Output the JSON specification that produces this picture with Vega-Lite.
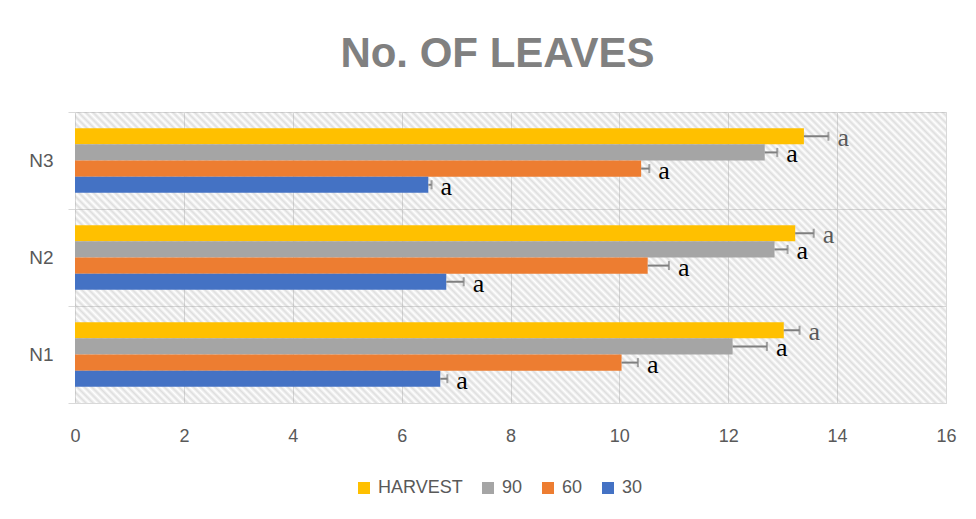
{
  "$schema": "https://vega.github.io/schema/vega-lite/v6.json",
  "width": 871,
  "height": 291,
  "autosize": {"type": "none"},
  "padding": {"left": 75, "top": 112, "right": 30, "bottom": 116},
  "background": "white",
  "title": {
    "text": "No. OF LEAVES",
    "font": "Liberation Sans",
    "fontSize": 42,
    "fontWeight": "bold",
    "color": "#808080",
    "anchor": "middle",
    "baseline": "alphabetic",
    "dx": -13,
    "offset": -6
  },
  "layer": [
    {
      "data": {"values": [{"area": "plot"}]},
      "mark": {
        "type": "rect",
        "fill": {
          "gradient": "linear",
          "x1": 0, "y1": 1, "x2": 1.2001, "y2": 0.599,
          "stops": [
{"offset":0,"color":"#a0a0a000"},{"offset":0.003125,"color":"#a0a0a059"},{"offset":0.00625,"color":"#a0a0a000"},{"offset":0.009375,"color":"#a0a0a059"},{"offset":0.0125,"color":"#a0a0a000"},{"offset":0.015625,"color":"#a0a0a059"},{"offset":0.01875,"color":"#a0a0a000"},{"offset":0.021875,"color":"#a0a0a059"},
{"offset":0.025,"color":"#a0a0a000"},{"offset":0.028125,"color":"#a0a0a059"},{"offset":0.03125,"color":"#a0a0a000"},{"offset":0.034375,"color":"#a0a0a059"},{"offset":0.0375,"color":"#a0a0a000"},{"offset":0.040625,"color":"#a0a0a059"},{"offset":0.04375,"color":"#a0a0a000"},{"offset":0.046875,"color":"#a0a0a059"},
{"offset":0.05,"color":"#a0a0a000"},{"offset":0.053125,"color":"#a0a0a059"},{"offset":0.05625,"color":"#a0a0a000"},{"offset":0.059375,"color":"#a0a0a059"},{"offset":0.0625,"color":"#a0a0a000"},{"offset":0.065625,"color":"#a0a0a059"},{"offset":0.06875,"color":"#a0a0a000"},{"offset":0.071875,"color":"#a0a0a059"},
{"offset":0.075,"color":"#a0a0a000"},{"offset":0.078125,"color":"#a0a0a059"},{"offset":0.08125,"color":"#a0a0a000"},{"offset":0.084375,"color":"#a0a0a059"},{"offset":0.0875,"color":"#a0a0a000"},{"offset":0.090625,"color":"#a0a0a059"},{"offset":0.09375,"color":"#a0a0a000"},{"offset":0.096875,"color":"#a0a0a059"},
{"offset":0.1,"color":"#a0a0a000"},{"offset":0.103125,"color":"#a0a0a059"},{"offset":0.10625,"color":"#a0a0a000"},{"offset":0.109375,"color":"#a0a0a059"},{"offset":0.1125,"color":"#a0a0a000"},{"offset":0.115625,"color":"#a0a0a059"},{"offset":0.11875,"color":"#a0a0a000"},{"offset":0.121875,"color":"#a0a0a059"},
{"offset":0.125,"color":"#a0a0a000"},{"offset":0.128125,"color":"#a0a0a059"},{"offset":0.13125,"color":"#a0a0a000"},{"offset":0.134375,"color":"#a0a0a059"},{"offset":0.1375,"color":"#a0a0a000"},{"offset":0.140625,"color":"#a0a0a059"},{"offset":0.14375,"color":"#a0a0a000"},{"offset":0.146875,"color":"#a0a0a059"},
{"offset":0.15,"color":"#a0a0a000"},{"offset":0.153125,"color":"#a0a0a059"},{"offset":0.15625,"color":"#a0a0a000"},{"offset":0.159375,"color":"#a0a0a059"},{"offset":0.1625,"color":"#a0a0a000"},{"offset":0.165625,"color":"#a0a0a059"},{"offset":0.16875,"color":"#a0a0a000"},{"offset":0.171875,"color":"#a0a0a059"},
{"offset":0.175,"color":"#a0a0a000"},{"offset":0.178125,"color":"#a0a0a059"},{"offset":0.18125,"color":"#a0a0a000"},{"offset":0.184375,"color":"#a0a0a059"},{"offset":0.1875,"color":"#a0a0a000"},{"offset":0.190625,"color":"#a0a0a059"},{"offset":0.19375,"color":"#a0a0a000"},{"offset":0.196875,"color":"#a0a0a059"},
{"offset":0.2,"color":"#a0a0a000"},{"offset":0.203125,"color":"#a0a0a059"},{"offset":0.20625,"color":"#a0a0a000"},{"offset":0.209375,"color":"#a0a0a059"},{"offset":0.2125,"color":"#a0a0a000"},{"offset":0.215625,"color":"#a0a0a059"},{"offset":0.21875,"color":"#a0a0a000"},{"offset":0.221875,"color":"#a0a0a059"},
{"offset":0.225,"color":"#a0a0a000"},{"offset":0.228125,"color":"#a0a0a059"},{"offset":0.23125,"color":"#a0a0a000"},{"offset":0.234375,"color":"#a0a0a059"},{"offset":0.2375,"color":"#a0a0a000"},{"offset":0.240625,"color":"#a0a0a059"},{"offset":0.24375,"color":"#a0a0a000"},{"offset":0.246875,"color":"#a0a0a059"},
{"offset":0.25,"color":"#a0a0a000"},{"offset":0.253125,"color":"#a0a0a059"},{"offset":0.25625,"color":"#a0a0a000"},{"offset":0.259375,"color":"#a0a0a059"},{"offset":0.2625,"color":"#a0a0a000"},{"offset":0.265625,"color":"#a0a0a059"},{"offset":0.26875,"color":"#a0a0a000"},{"offset":0.271875,"color":"#a0a0a059"},
{"offset":0.275,"color":"#a0a0a000"},{"offset":0.278125,"color":"#a0a0a059"},{"offset":0.28125,"color":"#a0a0a000"},{"offset":0.284375,"color":"#a0a0a059"},{"offset":0.2875,"color":"#a0a0a000"},{"offset":0.290625,"color":"#a0a0a059"},{"offset":0.29375,"color":"#a0a0a000"},{"offset":0.296875,"color":"#a0a0a059"},
{"offset":0.3,"color":"#a0a0a000"},{"offset":0.303125,"color":"#a0a0a059"},{"offset":0.30625,"color":"#a0a0a000"},{"offset":0.309375,"color":"#a0a0a059"},{"offset":0.3125,"color":"#a0a0a000"},{"offset":0.315625,"color":"#a0a0a059"},{"offset":0.31875,"color":"#a0a0a000"},{"offset":0.321875,"color":"#a0a0a059"},
{"offset":0.325,"color":"#a0a0a000"},{"offset":0.328125,"color":"#a0a0a059"},{"offset":0.33125,"color":"#a0a0a000"},{"offset":0.334375,"color":"#a0a0a059"},{"offset":0.3375,"color":"#a0a0a000"},{"offset":0.340625,"color":"#a0a0a059"},{"offset":0.34375,"color":"#a0a0a000"},{"offset":0.346875,"color":"#a0a0a059"},
{"offset":0.35,"color":"#a0a0a000"},{"offset":0.353125,"color":"#a0a0a059"},{"offset":0.35625,"color":"#a0a0a000"},{"offset":0.359375,"color":"#a0a0a059"},{"offset":0.3625,"color":"#a0a0a000"},{"offset":0.365625,"color":"#a0a0a059"},{"offset":0.36875,"color":"#a0a0a000"},{"offset":0.371875,"color":"#a0a0a059"},
{"offset":0.375,"color":"#a0a0a000"},{"offset":0.378125,"color":"#a0a0a059"},{"offset":0.38125,"color":"#a0a0a000"},{"offset":0.384375,"color":"#a0a0a059"},{"offset":0.3875,"color":"#a0a0a000"},{"offset":0.390625,"color":"#a0a0a059"},{"offset":0.39375,"color":"#a0a0a000"},{"offset":0.396875,"color":"#a0a0a059"},
{"offset":0.4,"color":"#a0a0a000"},{"offset":0.403125,"color":"#a0a0a059"},{"offset":0.40625,"color":"#a0a0a000"},{"offset":0.409375,"color":"#a0a0a059"},{"offset":0.4125,"color":"#a0a0a000"},{"offset":0.415625,"color":"#a0a0a059"},{"offset":0.41875,"color":"#a0a0a000"},{"offset":0.421875,"color":"#a0a0a059"},
{"offset":0.425,"color":"#a0a0a000"},{"offset":0.428125,"color":"#a0a0a059"},{"offset":0.43125,"color":"#a0a0a000"},{"offset":0.434375,"color":"#a0a0a059"},{"offset":0.4375,"color":"#a0a0a000"},{"offset":0.440625,"color":"#a0a0a059"},{"offset":0.44375,"color":"#a0a0a000"},{"offset":0.446875,"color":"#a0a0a059"},
{"offset":0.45,"color":"#a0a0a000"},{"offset":0.453125,"color":"#a0a0a059"},{"offset":0.45625,"color":"#a0a0a000"},{"offset":0.459375,"color":"#a0a0a059"},{"offset":0.4625,"color":"#a0a0a000"},{"offset":0.465625,"color":"#a0a0a059"},{"offset":0.46875,"color":"#a0a0a000"},{"offset":0.471875,"color":"#a0a0a059"},
{"offset":0.475,"color":"#a0a0a000"},{"offset":0.478125,"color":"#a0a0a059"},{"offset":0.48125,"color":"#a0a0a000"},{"offset":0.484375,"color":"#a0a0a059"},{"offset":0.4875,"color":"#a0a0a000"},{"offset":0.490625,"color":"#a0a0a059"},{"offset":0.49375,"color":"#a0a0a000"},{"offset":0.496875,"color":"#a0a0a059"},
{"offset":0.5,"color":"#a0a0a000"},{"offset":0.503125,"color":"#a0a0a059"},{"offset":0.50625,"color":"#a0a0a000"},{"offset":0.509375,"color":"#a0a0a059"},{"offset":0.5125,"color":"#a0a0a000"},{"offset":0.515625,"color":"#a0a0a059"},{"offset":0.51875,"color":"#a0a0a000"},{"offset":0.521875,"color":"#a0a0a059"},
{"offset":0.525,"color":"#a0a0a000"},{"offset":0.528125,"color":"#a0a0a059"},{"offset":0.53125,"color":"#a0a0a000"},{"offset":0.534375,"color":"#a0a0a059"},{"offset":0.5375,"color":"#a0a0a000"},{"offset":0.540625,"color":"#a0a0a059"},{"offset":0.54375,"color":"#a0a0a000"},{"offset":0.546875,"color":"#a0a0a059"},
{"offset":0.55,"color":"#a0a0a000"},{"offset":0.553125,"color":"#a0a0a059"},{"offset":0.55625,"color":"#a0a0a000"},{"offset":0.559375,"color":"#a0a0a059"},{"offset":0.5625,"color":"#a0a0a000"},{"offset":0.565625,"color":"#a0a0a059"},{"offset":0.56875,"color":"#a0a0a000"},{"offset":0.571875,"color":"#a0a0a059"},
{"offset":0.575,"color":"#a0a0a000"},{"offset":0.578125,"color":"#a0a0a059"},{"offset":0.58125,"color":"#a0a0a000"},{"offset":0.584375,"color":"#a0a0a059"},{"offset":0.5875,"color":"#a0a0a000"},{"offset":0.590625,"color":"#a0a0a059"},{"offset":0.59375,"color":"#a0a0a000"},{"offset":0.596875,"color":"#a0a0a059"},
{"offset":0.6,"color":"#a0a0a000"},{"offset":0.603125,"color":"#a0a0a059"},{"offset":0.60625,"color":"#a0a0a000"},{"offset":0.609375,"color":"#a0a0a059"},{"offset":0.6125,"color":"#a0a0a000"},{"offset":0.615625,"color":"#a0a0a059"},{"offset":0.61875,"color":"#a0a0a000"},{"offset":0.621875,"color":"#a0a0a059"},
{"offset":0.625,"color":"#a0a0a000"},{"offset":0.628125,"color":"#a0a0a059"},{"offset":0.63125,"color":"#a0a0a000"},{"offset":0.634375,"color":"#a0a0a059"},{"offset":0.6375,"color":"#a0a0a000"},{"offset":0.640625,"color":"#a0a0a059"},{"offset":0.64375,"color":"#a0a0a000"},{"offset":0.646875,"color":"#a0a0a059"},
{"offset":0.65,"color":"#a0a0a000"},{"offset":0.653125,"color":"#a0a0a059"},{"offset":0.65625,"color":"#a0a0a000"},{"offset":0.659375,"color":"#a0a0a059"},{"offset":0.6625,"color":"#a0a0a000"},{"offset":0.665625,"color":"#a0a0a059"},{"offset":0.66875,"color":"#a0a0a000"},{"offset":0.671875,"color":"#a0a0a059"},
{"offset":0.675,"color":"#a0a0a000"},{"offset":0.678125,"color":"#a0a0a059"},{"offset":0.68125,"color":"#a0a0a000"},{"offset":0.684375,"color":"#a0a0a059"},{"offset":0.6875,"color":"#a0a0a000"},{"offset":0.690625,"color":"#a0a0a059"},{"offset":0.69375,"color":"#a0a0a000"},{"offset":0.696875,"color":"#a0a0a059"},
{"offset":0.7,"color":"#a0a0a000"},{"offset":0.703125,"color":"#a0a0a059"},{"offset":0.70625,"color":"#a0a0a000"},{"offset":0.709375,"color":"#a0a0a059"},{"offset":0.7125,"color":"#a0a0a000"},{"offset":0.715625,"color":"#a0a0a059"},{"offset":0.71875,"color":"#a0a0a000"},{"offset":0.721875,"color":"#a0a0a059"},
{"offset":0.725,"color":"#a0a0a000"},{"offset":0.728125,"color":"#a0a0a059"},{"offset":0.73125,"color":"#a0a0a000"},{"offset":0.734375,"color":"#a0a0a059"},{"offset":0.7375,"color":"#a0a0a000"},{"offset":0.740625,"color":"#a0a0a059"},{"offset":0.74375,"color":"#a0a0a000"},{"offset":0.746875,"color":"#a0a0a059"},
{"offset":0.75,"color":"#a0a0a000"},{"offset":0.753125,"color":"#a0a0a059"},{"offset":0.75625,"color":"#a0a0a000"},{"offset":0.759375,"color":"#a0a0a059"},{"offset":0.7625,"color":"#a0a0a000"},{"offset":0.765625,"color":"#a0a0a059"},{"offset":0.76875,"color":"#a0a0a000"},{"offset":0.771875,"color":"#a0a0a059"},
{"offset":0.775,"color":"#a0a0a000"},{"offset":0.778125,"color":"#a0a0a059"},{"offset":0.78125,"color":"#a0a0a000"},{"offset":0.784375,"color":"#a0a0a059"},{"offset":0.7875,"color":"#a0a0a000"},{"offset":0.790625,"color":"#a0a0a059"},{"offset":0.79375,"color":"#a0a0a000"},{"offset":0.796875,"color":"#a0a0a059"},
{"offset":0.8,"color":"#a0a0a000"},{"offset":0.803125,"color":"#a0a0a059"},{"offset":0.80625,"color":"#a0a0a000"},{"offset":0.809375,"color":"#a0a0a059"},{"offset":0.8125,"color":"#a0a0a000"},{"offset":0.815625,"color":"#a0a0a059"},{"offset":0.81875,"color":"#a0a0a000"},{"offset":0.821875,"color":"#a0a0a059"},
{"offset":0.825,"color":"#a0a0a000"},{"offset":0.828125,"color":"#a0a0a059"},{"offset":0.83125,"color":"#a0a0a000"},{"offset":0.834375,"color":"#a0a0a059"},{"offset":0.8375,"color":"#a0a0a000"},{"offset":0.840625,"color":"#a0a0a059"},{"offset":0.84375,"color":"#a0a0a000"},{"offset":0.846875,"color":"#a0a0a059"},
{"offset":0.85,"color":"#a0a0a000"},{"offset":0.853125,"color":"#a0a0a059"},{"offset":0.85625,"color":"#a0a0a000"},{"offset":0.859375,"color":"#a0a0a059"},{"offset":0.8625,"color":"#a0a0a000"},{"offset":0.865625,"color":"#a0a0a059"},{"offset":0.86875,"color":"#a0a0a000"},{"offset":0.871875,"color":"#a0a0a059"},
{"offset":0.875,"color":"#a0a0a000"},{"offset":0.878125,"color":"#a0a0a059"},{"offset":0.88125,"color":"#a0a0a000"},{"offset":0.884375,"color":"#a0a0a059"},{"offset":0.8875,"color":"#a0a0a000"},{"offset":0.890625,"color":"#a0a0a059"},{"offset":0.89375,"color":"#a0a0a000"},{"offset":0.896875,"color":"#a0a0a059"},
{"offset":0.9,"color":"#a0a0a000"},{"offset":0.903125,"color":"#a0a0a059"},{"offset":0.90625,"color":"#a0a0a000"},{"offset":0.909375,"color":"#a0a0a059"},{"offset":0.9125,"color":"#a0a0a000"},{"offset":0.915625,"color":"#a0a0a059"},{"offset":0.91875,"color":"#a0a0a000"},{"offset":0.921875,"color":"#a0a0a059"},
{"offset":0.925,"color":"#a0a0a000"},{"offset":0.928125,"color":"#a0a0a059"},{"offset":0.93125,"color":"#a0a0a000"},{"offset":0.934375,"color":"#a0a0a059"},{"offset":0.9375,"color":"#a0a0a000"},{"offset":0.940625,"color":"#a0a0a059"},{"offset":0.94375,"color":"#a0a0a000"},{"offset":0.946875,"color":"#a0a0a059"},
{"offset":0.95,"color":"#a0a0a000"},{"offset":0.953125,"color":"#a0a0a059"},{"offset":0.95625,"color":"#a0a0a000"},{"offset":0.959375,"color":"#a0a0a059"},{"offset":0.9625,"color":"#a0a0a000"},{"offset":0.965625,"color":"#a0a0a059"},{"offset":0.96875,"color":"#a0a0a000"},{"offset":0.971875,"color":"#a0a0a059"},
{"offset":0.975,"color":"#a0a0a000"},{"offset":0.978125,"color":"#a0a0a059"},{"offset":0.98125,"color":"#a0a0a000"},{"offset":0.984375,"color":"#a0a0a059"},{"offset":0.9875,"color":"#a0a0a000"},{"offset":0.990625,"color":"#a0a0a059"},{"offset":0.99375,"color":"#a0a0a000"},{"offset":0.996875,"color":"#a0a0a059"},
{"offset":1,"color":"#a0a0a000"}
          ]
        }
      },
      "encoding": {}
    },
    {
      "data": {
        "values": [
          {"group": "N3", "series": "HARVEST", "value": 13.39, "upper": 13.84, "letter": "a"},
          {"group": "N3", "series": "90", "value": 12.67, "upper": 12.9, "letter": "a"},
          {"group": "N3", "series": "60", "value": 10.4, "upper": 10.55, "letter": "a"},
          {"group": "N3", "series": "30", "value": 6.49, "upper": 6.55, "letter": "a"},
          {"group": "N2", "series": "HARVEST", "value": 13.23, "upper": 13.57, "letter": "a"},
          {"group": "N2", "series": "90", "value": 12.85, "upper": 13.09, "letter": "a"},
          {"group": "N2", "series": "60", "value": 10.52, "upper": 10.91, "letter": "a"},
          {"group": "N2", "series": "30", "value": 6.82, "upper": 7.14, "letter": "a"},
          {"group": "N1", "series": "HARVEST", "value": 13.02, "upper": 13.31, "letter": "a"},
          {"group": "N1", "series": "90", "value": 12.08, "upper": 12.71, "letter": "a"},
          {"group": "N1", "series": "60", "value": 10.04, "upper": 10.34, "letter": "a"},
          {"group": "N1", "series": "30", "value": 6.71, "upper": 6.84, "letter": "a"}
        ]
      },
      "encoding": {
        "y": {
          "field": "group",
          "type": "nominal",
          "sort": ["N3", "N2", "N1"],
          "scale": {"paddingInner": 0, "paddingOuter": 0},
          "axis": {
            "title": null,
            "domain": false,
            "ticks": true,
            "tickBand": "extent",
            "tickSize": 7,
            "tickColor": "#d9d9d9",
            "grid": true,
            "gridColor": "#d9d9d9",
            "labelFont": "Liberation Sans",
            "labelFontSize": 19,
            "labelColor": "#595959",
            "labelPadding": 15
          }
        },
        "yOffset": {
          "field": "series",
          "type": "nominal",
          "sort": ["HARVEST", "90", "60", "30"],
          "scale": {"paddingInner": 0, "paddingOuter": 1.27}
        }
      },
      "layer": [
        {
          "mark": {"type": "bar"},
          "encoding": {
            "x": {
              "field": "value",
              "type": "quantitative",
              "scale": {"domain": [0, 16], "nice": false},
              "axis": {
                "title": null,
                "values": [0, 2, 4, 6, 8, 10, 12, 14, 16],
                "domain": false,
                "ticks": false,
                "grid": true,
                "gridColor": "#d9d9d9",
                "labelFlush": false,
                "labelFont": "Liberation Sans",
                "labelFontSize": 18,
                "labelColor": "#595959",
                "labelPadding": 24
              }
            },
            "color": {
              "field": "series",
              "type": "nominal",
              "scale": {
                "domain": ["HARVEST", "90", "60", "30"],
                "range": ["#FFC000", "#A5A5A5", "#ED7D31", "#4472C4"]
              },
              "legend": {
                "title": null,
                "orient": "none",
                "legendX": 280,
                "legendY": 367,
                "direction": "horizontal",
                "padding": 0,
                "symbolType": "square",
                "symbolSize": 144,
                "symbolStrokeWidth": 0,
                "labelFont": "Liberation Sans",
                "labelFontSize": 18,
                "labelColor": "#595959",
                "labelOffset": 5,
                "columnPadding": 16
              }
            }
          }
        },
        {
          "mark": {"type": "rule", "color": "#7f7f7f", "strokeWidth": 2},
          "encoding": {
            "x": {"field": "value", "type": "quantitative"},
            "x2": {"field": "upper"}
          }
        },
        {
          "mark": {"type": "tick", "orient": "vertical", "color": "#7f7f7f", "thickness": 2, "size": 9},
          "encoding": {
            "x": {"field": "upper", "type": "quantitative"}
          }
        },
        {
          "mark": {"type": "text", "align": "left", "baseline": "alphabetic", "dx": 9, "dy": 10, "font": "Liberation Serif", "fontSize": 26},
          "encoding": {
            "x": {"field": "upper", "type": "quantitative"},
            "text": {"field": "letter"},
            "color": {
              "condition": {"test": "datum.series === 'HARVEST'", "value": "#595959"},
              "value": "#000000"
            }
          }
        }
      ]
    }
  ],
  "config": {
    "view": {"stroke": "#d9d9d9", "fill": "white"}
  }
}
